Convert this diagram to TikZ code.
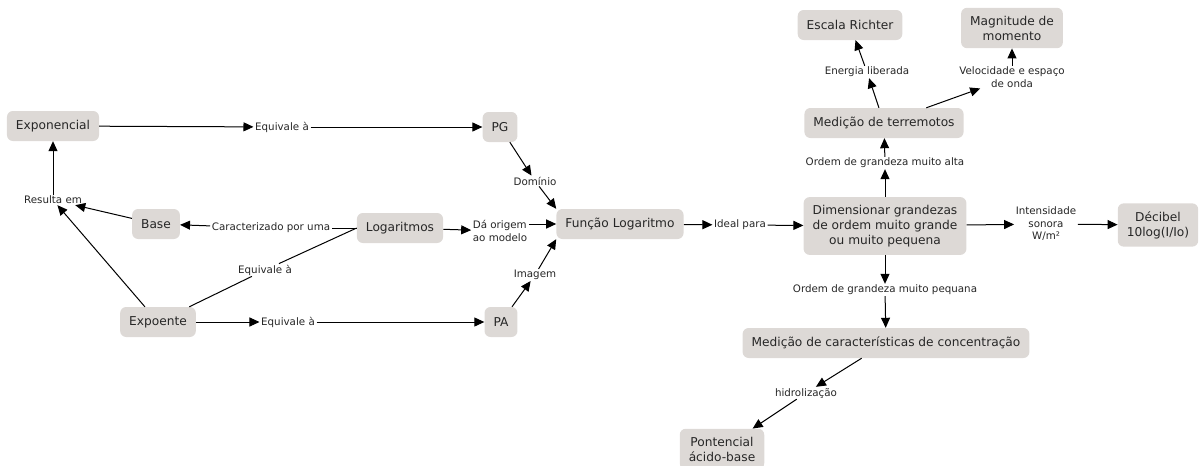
\documentclass[tikz,border=0pt]{standalone}
\usepackage{fontspec}
\setmainfont{DejaVu Sans}
\usetikzlibrary{arrows.meta}
\definecolor{caixa}{RGB}{221,217,214}
\tikzset{
	conceito/.style={fill=caixa, rounded corners=6pt, inner xsep=9pt, inner ysep=8pt, minimum height=30pt, align=center, text=black!85, font=\fontsize{12.2}{15}\selectfont},
	rotulo/.style={fill=white, inner xsep=1.5pt, inner ysep=1pt, align=center, text=black!85, font=\fontsize{10.3}{12.5}\selectfont},
	seta/.style={line width=1pt, -{Triangle[length=10pt,width=9pt]}},
	linha/.style={line width=1pt}
}

\begin{document}
\begin{tikzpicture}[x=1pt, y=-1pt]
			%%%%% START %%%%%
			\useasboundingbox (0, 0) rectangle (1203, 466);
			
			\node[conceito] (exponencial) at (53, 126) {Exponencial};
			\node[conceito] (pg) at (500, 127) {PG};
			\node[conceito] (base) at (156, 224) {Base};
			\node[conceito] (logaritmos) at (400, 228) {Logaritmos};
			\node[conceito] (expoente) at (158, 322) {Expoente};
			\node[conceito] (pa) at (501, 322) {PA};
			\node[conceito] (funcao) at (620, 224) {Função Logaritmo};
			\node[conceito] (dimensionar) at (885, 226) {Dimensionar grandezas\\de ordem muito grande\\ou muito pequena};
			\node[conceito] (decibel) at (1158, 225) {Décibel\\10log(I/Io)};
			\node[conceito] (terremotos) at (884, 123) {Medição de terremotos};
			\node[conceito] (richter) at (850, 25) {Escala Richter};
			\node[conceito] (magnitude) at (1012, 28) {Magnitude de\\momento};
			\node[conceito] (concentracao) at (886, 343) {Medição de características de concentração};
			\node[conceito] (acidobase) at (722, 449) {Pontencial\\ácido-base};
			
			\node[rotulo] (eqPG) at (282, 127) {Equivale à};
			\node[rotulo] (eqPA) at (288, 322) {Equivale à};
			\node[rotulo] (eqLog) at (265, 270) {Equivale à};
			\node[rotulo] (resulta) at (53, 200) {Resulta em};
			\node[rotulo] (caracterizado) at (271, 228) {Caracterizado por uma};
			\node[rotulo, align=left] (origem) at (500, 231) {Dá origem\\ao modelo};
			\node[rotulo] (dominio) at (535, 181) {Domínio};
			\node[rotulo] (imagem) at (535, 275) {Imagem};
			\node[rotulo] (ideal) at (740, 225) {Ideal para};
			\node[rotulo] (alta) at (885, 163) {Ordem de grandeza muito alta};
			\node[rotulo] (energia) at (867, 72) {Energia liberada};
			\node[rotulo] (velocidade) at (1012, 77) {Velocidade e espaço\\de onda};
			\node[rotulo] (sonora) at (1046, 224) {Intensidade\\sonora\\W/m²};
			\node[rotulo] (pequena) at (885, 290) {Ordem de grandeza muito pequana};
			\node[rotulo] (hidro) at (806, 393) {hidrolização};
			
			\draw[seta] (exponencial) -- (eqPG);
			\draw[seta] (eqPG) -- (pg);
			\draw[seta] (expoente) -- (eqPA);
			\draw[seta] (eqPA) -- (pa);
			\draw[linha] (logaritmos.west) -- (eqLog);
			\draw[linha] (eqLog) -- (expoente);
			\draw[linha] (logaritmos.west) -- (caracterizado);
			\draw[seta] (caracterizado) -- (base);
			\draw[seta] (base) -- (resulta);
			\draw[seta] (expoente) -- (resulta);
			\draw[seta] (resulta) -- (exponencial);
			
			\draw[seta] (pg) -- (dominio);
			\draw[seta] (dominio) -- (funcao.north west);
			\draw[seta] (pa) -- (imagem);
			\draw[seta] (imagem) -- (funcao.south west);
			\draw[seta] (logaritmos) -- (origem);
			\draw[seta] (origem.east |- funcao) -- (funcao);
			\draw[seta] (funcao) -- (ideal);
			\draw[seta] (ideal) -- (dimensionar);
			
			\draw[seta] (dimensionar) -- (alta);
			\draw[seta] (alta) -- (terremotos);
			\draw[seta] (terremotos) -- (energia);
			\draw[seta] (energia) -- (richter);
			\draw[seta] (terremotos) -- (velocidade);
			\draw[seta] (velocidade) -- (magnitude);
			\draw[seta] (dimensionar) -- (sonora);
			\draw[seta] (sonora) -- (decibel);
			\draw[seta] (dimensionar) -- (pequena);
			\draw[seta] (pequena) -- (concentracao);
			\draw[seta] (concentracao) -- (hidro);
			\draw[seta] (hidro) -- (acidobase);
			
			%%%%% END %%%%%
\end{tikzpicture}
\end{document}
